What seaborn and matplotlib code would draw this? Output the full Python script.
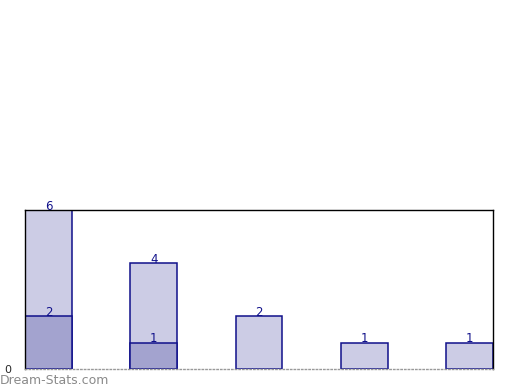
import pandas as pd
import matplotlib
matplotlib.use('Agg')
import matplotlib.pyplot as plt
import seaborn as sns

categories = ['A', 'B', 'C', 'D', 'E']
totals = [6, 4, 2, 1, 1]
inner_cats = ['A', 'B']
inner_vals = [2, 1]

light = '#ccccE5'
dark = '#a3a3cf'
edge = '#10108a'

sns.set_style('white')
plt.rcParams['font.family'] = ['DejaVu Sans']

fig = plt.figure(figsize=(5.2, 3.9), dpi=100)
ax = fig.add_axes([25 / 520, 21 / 390, 468 / 520, 159 / 390])

df_tot = pd.DataFrame({'cat': categories, 'val': totals})
df_in = pd.DataFrame({'cat': inner_cats, 'val': inner_vals})

sns.barplot(data=df_tot, x='cat', y='val', order=categories, color=light,
            saturation=1, edgecolor=edge, linewidth=1.1, width=0.445, ax=ax)
sns.barplot(data=df_in, x='cat', y='val', order=categories, color=dark,
            saturation=1, edgecolor=edge, linewidth=1.1, width=0.445, ax=ax)

for i, v in enumerate(totals):
    ax.annotate(str(v), (i, v), xytext=(0, -2), textcoords='offset points',
                ha='center', va='bottom', fontsize=8.5, color=edge)
for c, v in zip(inner_cats, inner_vals):
    ax.annotate(str(v), (categories.index(c), v), xytext=(0, -2), textcoords='offset points',
                ha='center', va='bottom', fontsize=8.5, color=edge)

ax.set_xlim(-0.2225, 4.2225)
ax.set_ylim(0, 6)
ax.set_xlabel('')
ax.set_ylabel('')
ax.set_xticks([])
ax.set_yticks([0])
ax.set_yticklabels(['0'])
ax.tick_params(axis='y', length=0, pad=10, labelsize=8)
for s in ['top', 'right', 'left']:
    ax.spines[s].set_color('black')
    ax.spines[s].set_linewidth(1)
ax.spines['bottom'].set_color('#999999')
ax.spines['bottom'].set_linestyle(':')
ax.spines['bottom'].set_linewidth(1)

fig.text(0, 10 / 390, 'Dream-Stats.com', ha='left', va='center',
         fontsize=9, color='#8a8a8a')

fig.savefig('out.png', dpi=100)
